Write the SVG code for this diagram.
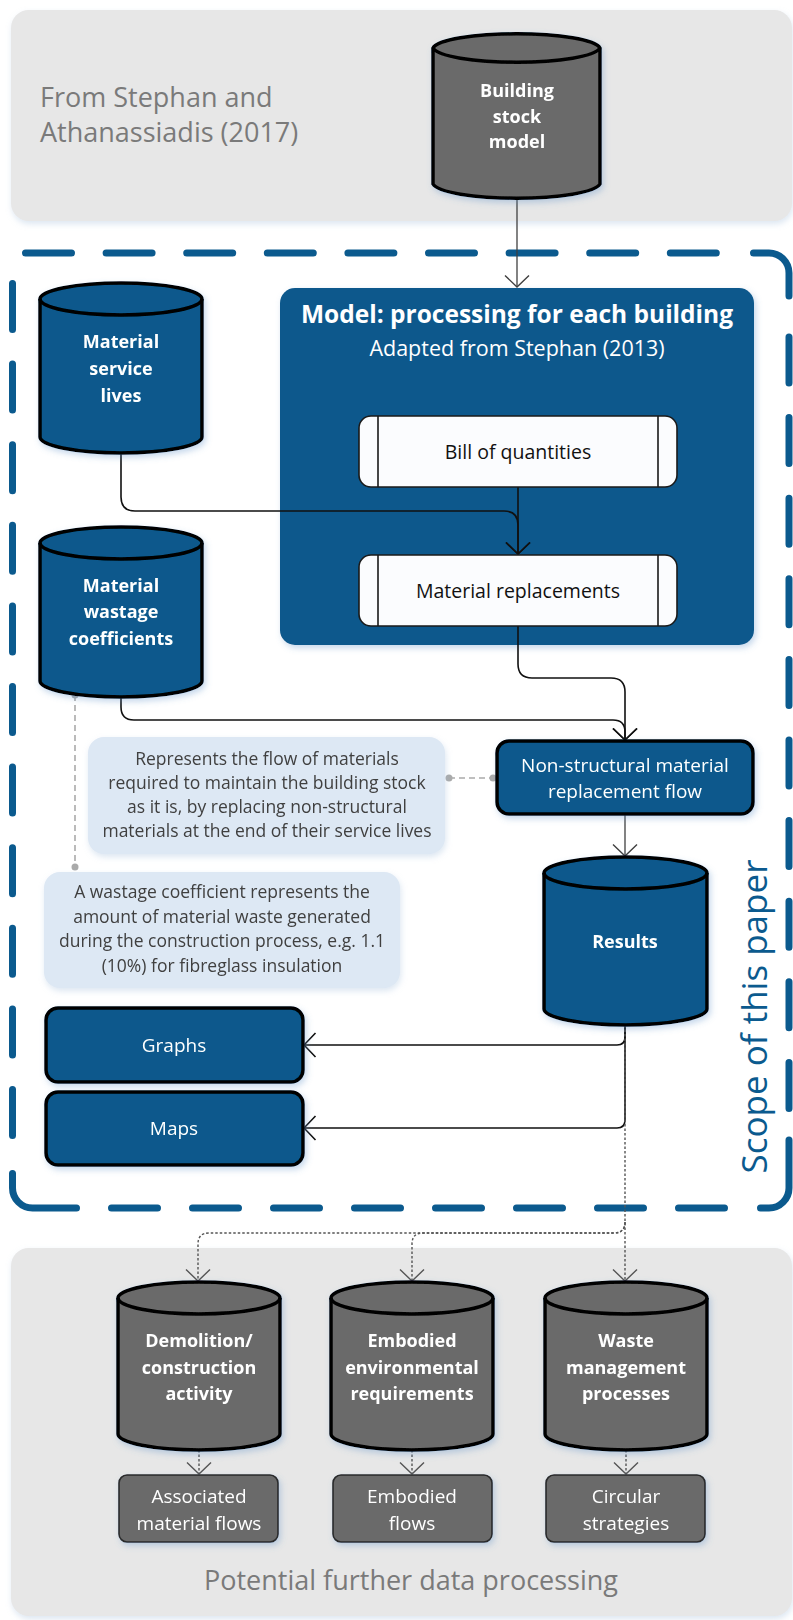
<svg xmlns="http://www.w3.org/2000/svg" width="793" height="1620" viewBox="0 0 793 1620">
<defs>
<style>
.panel{fill:#e7e7e7;}
.cylB{fill:#09598c;stroke:#000;stroke-width:3.5;}
.cylG{fill:#6a6a6a;stroke:#000;stroke-width:3.5;}
.cap{fill:none;stroke:#000;stroke-width:3.5;}
.boxB{fill:#09598c;stroke:#000;stroke-width:3.5;}
.boxW{fill:#fbfcfe;stroke:#1a1a1a;stroke-width:1.6;}
.boxG{fill:#6a6a6a;stroke:#2a2a2a;stroke-width:1.6;}
.note{fill:#dde8f4;}
.tb{font-family:"Open Sans","DejaVu Sans",sans-serif;font-weight:bold;font-size:18px;fill:#fff;text-anchor:middle;}
.tw{font-family:"Open Sans","DejaVu Sans",sans-serif;font-size:19px;fill:#fff;text-anchor:middle;}
.tk{font-family:"Open Sans","DejaVu Sans",sans-serif;font-size:19.5px;fill:#111;text-anchor:middle;}
.tn{font-family:"Open Sans","DejaVu Sans",sans-serif;font-size:17.5px;fill:#404040;text-anchor:middle;}
.tgrey{font-family:"Open Sans","DejaVu Sans",sans-serif;font-size:27px;fill:#7a7a7a;}
.solid{fill:none;stroke:#111;stroke-width:1.6;}
.grey{fill:none;stroke:#404040;stroke-width:1.3;}
.dot{fill:none;stroke:#555;stroke-width:1.4;stroke-dasharray:2.5 2;}
.ann{fill:none;stroke:#aaa;stroke-width:1.6;stroke-dasharray:6 4;}
.dash{fill:none;stroke:#0b5a8e;stroke-width:7;stroke-linecap:round;}
</style>
<filter id="sh" x="-10%" y="-10%" width="130%" height="130%">
<feDropShadow dx="2" dy="3" stdDeviation="3" flood-color="#5b8fc8" flood-opacity="0.35"/>
</filter>
<filter id="shp" x="-5%" y="-5%" width="110%" height="115%">
<feDropShadow dx="1" dy="3" stdDeviation="3" flood-color="#9ab8d8" flood-opacity="0.35"/>
</filter>
<marker id="ahK" viewBox="0 0 14 26" refX="12.5" refY="13" markerWidth="14" markerHeight="26" orient="auto" markerUnits="userSpaceOnUse">
<path d="M1,1 L12.5,13 L1,25" fill="none" stroke="#111" stroke-width="1.6"/>
</marker>
<marker id="ahG" viewBox="0 0 14 26" refX="12.5" refY="13" markerWidth="14" markerHeight="26" orient="auto" markerUnits="userSpaceOnUse">
<path d="M1,1 L12.5,13 L1,25" fill="none" stroke="#404040" stroke-width="1.4"/>
</marker>
<marker id="ahD" viewBox="0 0 14 26" refX="12.5" refY="13" markerWidth="14" markerHeight="26" orient="auto" markerUnits="userSpaceOnUse">
<path d="M1,1 L12.5,13 L1,25" fill="none" stroke="#555" stroke-width="1.4"/>
</marker>
</defs>

<rect width="793" height="1620" fill="#fff"/>

<!-- panels -->
<g id="panel-top">
<rect class="panel" x="11" y="10" width="781" height="211" rx="18" filter="url(#shp)"/>
<text class="tgrey" x="40" y="107">From Stephan and</text>
<text class="tgrey" x="40" y="142">Athanassiadis (2017)</text>
</g>
<g id="panel-bottom">
<rect class="panel" x="11" y="1248" width="781" height="368" rx="18" filter="url(#shp)"/>
<text class="tgrey" x="411" y="1590" text-anchor="middle">Potential further data processing</text>
</g>

<!-- scope dashed border -->
<g id="scope">
<path class="dash" d="M25.5,253 H720" stroke-dasharray="46 34.6"/>
<path class="dash" d="M753.5,253 H769 A20,20 0 0 1 789,273 V296"/>
<path class="dash" d="M789,337 V1110" stroke-dasharray="46 34.6"/>
<path class="dash" d="M789,1140 V1188 A20,20 0 0 1 769,1208 H760.5"/>
<path class="dash" d="M111.5,1208 H730" stroke-dasharray="46 35"/>
<path class="dash" d="M76.5,1208 H32.5 A20,20 0 0 1 12.5,1188 V1173.5"/>
<path class="dash" d="M12.5,283.5 V1140" stroke-dasharray="46 34.6"/>
<text x="767" y="1016.5" transform="rotate(-90 767 1016.5)" text-anchor="middle" font-family="Open Sans, DejaVu Sans, sans-serif" font-size="35" fill="#0b5a8e">Scope of this paper</text>
</g>

<!-- model container -->
<g id="model">
<rect x="280" y="288" width="474" height="357" rx="15" fill="#09598c" filter="url(#sh)"/>
<text x="517" y="323" text-anchor="middle" font-family="Open Sans, DejaVu Sans, sans-serif" font-weight="bold" font-size="24.5" fill="#fff">Model: processing for each building</text>
<text x="517" y="356" text-anchor="middle" font-family="Open Sans, DejaVu Sans, sans-serif" font-size="21.5" fill="#fff">Adapted from Stephan (2013)</text>
</g>

<!-- connectors -->
<g id="connectors">
<path class="grey" d="M517,200 V287" marker-end="url(#ahG)"/>
<path class="solid" d="M121,453 V497 Q121,511 135,511 H504 Q518,511 518,525 V554" marker-end="url(#ahK)"/>
<path class="solid" d="M518,487 V554" marker-end="url(#ahK)"/>
<path class="solid" d="M518,626 V664 Q518,678 532,678 H611 Q625,678 625,692 V740" marker-end="url(#ahK)"/>
<path class="solid" d="M121,697 V707 Q121,720 134,720 H613 Q625,720 625,732 V740" marker-end="url(#ahK)"/>
<path class="grey" d="M625,814 V856" marker-end="url(#ahG)"/>
<path class="solid" d="M625,1025 V1037 Q625,1045 617,1045 H304" marker-end="url(#ahK)"/>
<path class="solid" d="M625,1025 V1120 Q625,1128 617,1128 H304" marker-end="url(#ahK)"/>
<path class="dot" d="M625,1025 V1281" marker-end="url(#ahD)"/>
<path class="dot" d="M625,1222 Q625,1233 614,1233 H209 Q198,1233 198,1244 V1281" marker-end="url(#ahD)"/>
<path class="dot" d="M625,1222 Q625,1233 614,1233 H423 Q412,1233 412,1244 V1281" marker-end="url(#ahD)"/>
<path class="dot" d="M199,1450 V1474" marker-end="url(#ahD)"/>
<path class="dot" d="M412,1450 V1474" marker-end="url(#ahD)"/>
<path class="dot" d="M626,1450 V1474" marker-end="url(#ahD)"/>
<path class="ann" d="M449,778 H493"/>
<circle cx="449" cy="778" r="3.5" fill="#aaa"/>
<circle cx="493" cy="778" r="3.5" fill="#aaa"/>
<path class="ann" d="M75,695 V867"/>
<circle cx="75" cy="695" r="3.5" fill="#aaa"/>
<circle cx="75" cy="867" r="3.5" fill="#aaa"/>
</g>

<!-- nodes -->
<g id="building-stock-model" filter="url(#sh)">
<path class="cylG" d="M433,48 A84,16 0 0 1 600,48 V184 A84,16 0 0 1 433,184 Z"/>
<path class="cap" d="M433,48 A84,16 0 0 0 600,48"/>
<text class="tb" x="517" y="97">Building</text>
<text class="tb" x="517" y="123">stock</text>
<text class="tb" x="517" y="148">model</text>
</g>

<g id="material-service-lives" filter="url(#sh)">
<path class="cylB" d="M40,299 A81,16 0 0 1 202,299 V437 A81,16 0 0 1 40,437 Z"/>
<path class="cap" d="M40,299 A81,16 0 0 0 202,299"/>
<text class="tb" x="121" y="348">Material</text>
<text class="tb" x="121" y="375">service</text>
<text class="tb" x="121" y="402">lives</text>
</g>

<g id="material-wastage-coefficients" filter="url(#sh)">
<path class="cylB" d="M40,543 A81,16 0 0 1 202,543 V681 A81,16 0 0 1 40,681 Z"/>
<path class="cap" d="M40,543 A81,16 0 0 0 202,543"/>
<text class="tb" x="121" y="592">Material</text>
<text class="tb" x="121" y="618">wastage</text>
<text class="tb" x="121" y="645">coefficients</text>
</g>

<g id="bill-of-quantities">
<rect class="boxW" x="359" y="416" width="318" height="71" rx="12"/>
<path d="M378,416 V487 M658,416 V487" stroke="#1a1a1a" stroke-width="1.6"/>
<text class="tk" x="518" y="459">Bill of quantities</text>
</g>

<g id="material-replacements">
<rect class="boxW" x="359" y="555" width="318" height="71" rx="12"/>
<path d="M378,555 V626 M658,555 V626" stroke="#1a1a1a" stroke-width="1.6"/>
<text class="tk" x="518" y="598">Material replacements</text>
</g>

<g id="nsmrf" filter="url(#sh)">
<rect class="boxB" x="497" y="741" width="256" height="73" rx="12"/>
<text class="tw" x="625" y="772">Non-structural material</text>
<text class="tw" x="625" y="798">replacement flow</text>
</g>

<g id="note-flow" filter="url(#shp)">
<rect class="note" x="88" y="737" width="357" height="117" rx="16"/>
<text class="tn" x="267" y="765">Represents the flow of materials</text>
<text class="tn" x="267" y="789">required to maintain the building stock</text>
<text class="tn" x="267" y="813">as it is, by replacing non-structural</text>
<text class="tn" x="267" y="837">materials at the end of their service lives</text>
</g>

<g id="note-wastage" filter="url(#shp)">
<rect class="note" x="44" y="872" width="356" height="116" rx="16"/>
<text class="tn" x="222" y="898">A wastage coefficient represents the</text>
<text class="tn" x="222" y="923">amount of material waste generated</text>
<text class="tn" x="222" y="947">during the construction process, e.g. 1.1</text>
<text class="tn" x="222" y="972">(10%) for fibreglass insulation</text>
</g>

<g id="results" filter="url(#sh)">
<path class="cylB" d="M544,873 A81.5,16 0 0 1 707,873 V1009 A81.5,16 0 0 1 544,1009 Z"/>
<path class="cap" d="M544,873 A81.5,16 0 0 0 707,873"/>
<text class="tb" x="625" y="948">Results</text>
</g>

<g id="graphs" filter="url(#sh)">
<rect class="boxB" x="46" y="1008" width="257" height="74" rx="12"/>
<text class="tw" x="174" y="1052">Graphs</text>
</g>

<g id="maps" filter="url(#sh)">
<rect class="boxB" x="46" y="1092" width="257" height="73" rx="12"/>
<text class="tw" x="174" y="1135">Maps</text>
</g>

<g id="demolition-construction-activity" filter="url(#sh)">
<path class="cylG" d="M118,1298 A81,16 0 0 1 280,1298 V1434 A81,16 0 0 1 118,1434 Z"/>
<path class="cap" d="M118,1298 A81,16 0 0 0 280,1298"/>
<text class="tb" x="199" y="1347">Demolition/</text>
<text class="tb" x="199" y="1374">construction</text>
<text class="tb" x="199" y="1400">activity</text>
</g>

<g id="embodied-environmental-requirements" filter="url(#sh)">
<path class="cylG" d="M331,1298 A81,16 0 0 1 493,1298 V1434 A81,16 0 0 1 331,1434 Z"/>
<path class="cap" d="M331,1298 A81,16 0 0 0 493,1298"/>
<text class="tb" x="412" y="1347">Embodied</text>
<text class="tb" x="412" y="1374">environmental</text>
<text class="tb" x="412" y="1400">requirements</text>
</g>

<g id="waste-management-processes" filter="url(#sh)">
<path class="cylG" d="M545,1298 A81,16 0 0 1 707,1298 V1434 A81,16 0 0 1 545,1434 Z"/>
<path class="cap" d="M545,1298 A81,16 0 0 0 707,1298"/>
<text class="tb" x="626" y="1347">Waste</text>
<text class="tb" x="626" y="1374">management</text>
<text class="tb" x="626" y="1400">processes</text>
</g>

<g id="associated-material-flows" filter="url(#sh)">
<rect class="boxG" x="119" y="1475" width="159" height="67" rx="8"/>
<text class="tw" x="199" y="1503">Associated</text>
<text class="tw" x="199" y="1530">material flows</text>
</g>

<g id="embodied-flows" filter="url(#sh)">
<rect class="boxG" x="333" y="1475" width="159" height="67" rx="8"/>
<text class="tw" x="412" y="1503">Embodied</text>
<text class="tw" x="412" y="1530">flows</text>
</g>

<g id="circular-strategies" filter="url(#sh)">
<rect class="boxG" x="546" y="1475" width="159" height="67" rx="8"/>
<text class="tw" x="626" y="1503">Circular</text>
<text class="tw" x="626" y="1530">strategies</text>
</g>
</svg>
